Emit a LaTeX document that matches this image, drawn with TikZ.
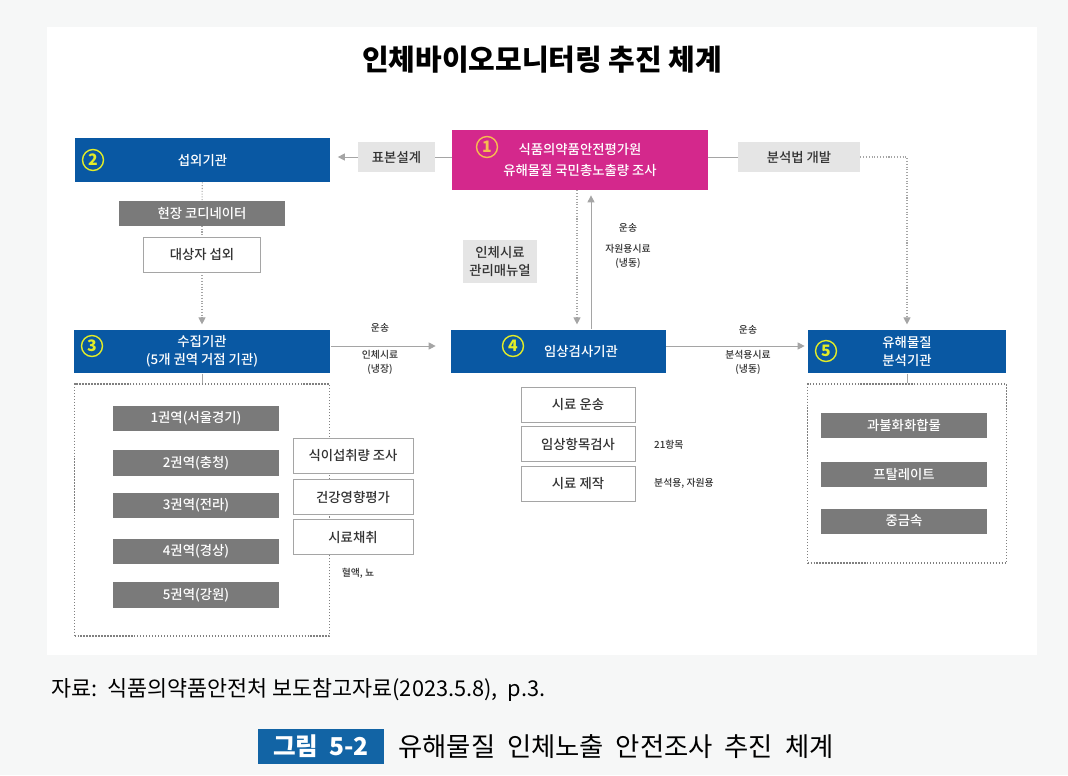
\documentclass[tikz,border=0pt]{standalone}
\usepackage{fontspec}
\setmainfont{Noto Sans CJK KR}
\newfontfamily\krmed{Noto Sans CJK KR}[UprightFont=* Medium]
\usepackage{xcolor}
\usepackage{tikz}
\usetikzlibrary{positioning,arrows.meta}

\definecolor{bgcol}{RGB}{246,247,247}
\definecolor{instblue}{RGB}{9,88,163}
\definecolor{krimag}{RGB}{212,40,140}
\definecolor{boxdark}{RGB}{122,122,122}
\definecolor{boxlight}{RGB}{229,229,229}
\definecolor{numyel}{RGB}{226,236,40}
\definecolor{numorg}{RGB}{246,188,80}
\definecolor{linegray}{RGB}{165,165,165}
\definecolor{capblue}{RGB}{18,100,165}
\definecolor{txtgray}{RGB}{50,50,50}

\begin{document}
\begin{tikzpicture}[
    x=0.02cm, y=-0.02cm,
    inst/.style={fill=instblue, text=white, align=center, minimum height=0.87cm, font=\krmed\fontsize{7.6}{10}\selectfont},
    numcirc/.style={circle, draw=numyel, line width=0.8pt, text=numyel, inner sep=0pt, minimum size=0.42cm, font=\bfseries\fontsize{9}{9}\selectfont},
    lightbox/.style={fill=boxlight, text=txtgray, minimum height=0.6cm, font=\krmed\fontsize{7.6}{10}\selectfont},
    darkbox/.style={fill=boxdark, text=white, minimum width=3.32cm, minimum height=0.5cm, font=\krmed\fontsize{7.6}{9}\selectfont},
    whitebox/.style={fill=white, draw=linegray, line width=0.5pt, text=txtgray, minimum height=0.7cm, font=\krmed\fontsize{7.6}{9}\selectfont},
    dotbox/.style={draw=gray, densely dotted, line width=0.7pt},
    note/.style={text=txtgray, align=center, font=\krmed\fontsize{5.6}{8}\selectfont},
    link/.style={draw=linegray, line width=0.5pt},
    dotlink/.style={draw=linegray, line width=0.6pt, densely dotted},
    arr/.style={-{Triangle[length=4pt,width=4pt]}}
  ]
    \fill[bgcol] (0,0) rectangle (1068,775);
    \fill[white] (47,27) rectangle (1037,655);
    \useasboundingbox (0,0) rectangle (1068,775);

    \node[font=\bfseries\fontsize{16.5}{20}\selectfont] (title) at (542,60) {인체바이오모니터링 추진 체계};

    % institutions
    \node[inst, fill=krimag, minimum width=5.12cm, minimum height=1.2cm, font=\krmed\fontsize{7.6}{12.5}\selectfont] (inst1) at (580,160) {식품의약품안전평가원\\유해물질 국민총노출량 조사};
    \node[inst, minimum width=5.1cm, minimum height=0.88cm] (inst2) at (202.5,160) {섭외기관};
    \node[inst, minimum width=5.14cm] (inst3) at (202,351.5) {수집기관\\(5개 권역 거점 기관)};
    \node[inst, minimum width=4.3cm] (inst4) at (558.5,351.5) {\hspace*{0.9cm}임상검사기관};
    \node[inst, minimum width=3.98cm] (inst5) at (907,351.5) {유해물질\\분석기관};

    \node[numcirc, draw=numorg, text=numorg] (num1) at (487,147) {1};
    \node[numcirc] (num2) at (93,160) {2};
    \node[numcirc] (num3) at (92,346) {3};
    \node[numcirc] (num4) at (513,346) {4};
    \node[numcirc] (num5) at (826,351) {5};

    \node[lightbox, minimum width=1.54cm] (design) at (396.5,157) {표본설계};
    \node[lightbox, minimum width=2.44cm] (method) at (799,157) {분석법 개발};
    \node[lightbox, minimum width=1.48cm, minimum height=0.86cm, align=center] (manual) at (500,261.5) {인체시료\\관리매뉴얼};

    \node[darkbox] (coord) at (202,213) {현장 코디네이터};
    \node[whitebox, minimum width=2.34cm] (recruit) at (202,254.5) {대상자 섭외};

    % containers
    \node[dotbox, minimum width=5.1cm, minimum height=5.04cm] (regions) at (202,510) {};
    \node[dotbox, minimum width=3.98cm, minimum height=3.58cm] (analytes) at (907,473.5) {};

    \foreach \i/\yy/\txt in {1/418.5/1권역(서울경기), 2/463/2권역(충청), 3/505.5/3권역(전라), 4/551.5/4권역(경상), 5/595/5권역(강원)}
      \node[darkbox] (reg\i) at (196,\yy) {\txt};
    \foreach \i/\yy/\txt in {1/455.5/식이섭취량 조사, 2/497/건강영향평가, 3/537/시료채취}
      \node[whitebox, minimum width=2.4cm] (svy\i) at (353,\yy) {\txt};
    \node[note] (blood) at (358,573) {혈액, 뇨};

    \foreach \i/\yy/\txt in {1/404.5/시료 운송, 2/444/임상항목검사, 3/483.5/시료 제작}
      \node[whitebox, minimum width=2.28cm] (lab\i) at (578,\yy) {\txt};
    \node[note, anchor=west] (items) at (648,445) {21항목};
    \node[note, anchor=west] (uses) at (648,483) {분석용, 자원용};

    \foreach \i/\yy/\txt in {1/425.5/과불화화합물, 2/474.5/프탈레이트, 3/521/중금속}
      \node[darkbox] (ana\i) at (904,\yy) {\txt};

    % connectors
    \draw[link] (inst1.west |- design.east) -- (design.east);
    \draw[link, arr, shorten >=0.15cm] (design.west) -- (design.west -| inst2.east);
    \draw[link] (method.west -| inst1.east) -- (method.west);
    \draw[dotlink, arr, shorten >=0.1cm] (method.east) -| (inst5.north);

    \draw[dotlink] (inst2) -- (coord);
    \draw[dotlink] (coord) -- (recruit);
    \draw[dotlink, arr, shorten >=0.1cm] (recruit) -- (inst3);
    \draw[link] (inst3) -- (regions);
    \draw[link] (inst5) -- (analytes);

    \draw[link, arr, shorten >=0.3cm] ([yshift=0.11cm]inst3.east) -- ([yshift=0.11cm]inst4.west);
    \node[note] (trans1) at (380,328) {운송};
    \node[note] (smp1) at (380,362) {인체시료\\(냉장)};
    \draw[link, arr, shorten >=0.05cm] ([yshift=0.11cm]inst4.east) -- ([yshift=0.11cm]inst5.west);
    \node[note] (trans2) at (748,330) {운송};
    \node[note] (smp2) at (748,362) {분석용시료\\(냉동)};

    \coordinate (down) at (577,0);
    \coordinate (up) at (591,0);
    \draw[dotlink, arr, shorten >=0.1cm] (down |- inst1.south) -- (down |- inst4.north);
    \draw[link, arr, shorten >=0.1cm] (up |- inst4.north) -- (up |- inst1.south);
    \node[note] (trans3) at (628,228) {운송};
    \node[note] (smp3) at (628,256) {자원용시료\\(냉동)};

    % caption
    \node[anchor=west, font=\fontsize{12.4}{14}\selectfont] (source) at (45,690) {자료:\ \ 식품의약품안전처 보도참고자료(2023.5.8),\ \ p.3.};
    \node[fill=capblue, text=white, minimum width=2.52cm, minimum height=0.54cm, font=\bfseries\fontsize{14}{16}\selectfont] (fignum) at (321,746.5) {그림\ \ 5-2};
    \node[anchor=west, inner sep=0pt, font=\fontsize{15}{17}\selectfont] (figtitle) at (398,746.5) {유해물질\ \ 인체노출\ \ 안전조사\ \ 추진\ \ 체계};
  \end{tikzpicture}
\end{document}
